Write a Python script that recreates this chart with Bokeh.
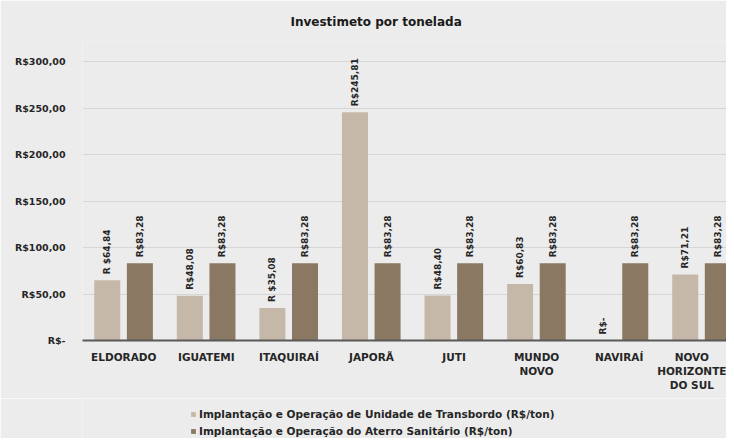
from math import pi
from bokeh.plotting import figure
from bokeh.layouts import column
from bokeh.models import (ColumnDataSource, LabelSet, Legend, LegendItem, Range1d,
                          FixedTicker)
from bokeh.core.properties import value
from bokeh.transform import dodge
from bokeh.embed import file_html
from bokeh.resources import INLINE

categories = ["ELDORADO", "IGUATEMI", "ITAQUIRAÍ", "JAPORÃ", "JUTI",
              "MUNDO\nNOVO", "NAVIRAÍ", "NOVO\nHORIZONTE\nDO SUL"]
transbordo = [64.84, 48.08, 35.08, 245.81, 48.40, 60.83, 0.0, 71.21]
aterro = [83.28, 83.28, 83.28, 83.28, 83.28, 83.28, 83.28, 83.28]
transbordo_labels = ["R $64,84", "R$48,08", "R $35,08", "R$245,81", "R$48,40",
                     "R$60,83", "R$-", "R$71,21"]
aterro_labels = ["R$83,28"] * 8
y_ticks = [0, 50, 100, 150, 200, 250, 300]
y_tick_labels = ["R$-", "R$50,00", "R$100,00", "R$150,00", "R$200,00",
                 "R$250,00", "R$300,00"]
series_names = ["Implantação e Operação de Unidade de Transbordo (R$/ton)",
                "Implantação e Operação do Aterro Sanitário (R$/ton)"]
title_text = "Investimeto por tonelada"

FONT = "DejaVu Sans"
LIGHT = "#c6b8a8"
DARK = "#8b7862"
BG = "#ececec"
TXT = "#262626"

xpos = [i + 0.5 for i in range(len(categories))]
src = ColumnDataSource(dict(x=xpos, t=transbordo, a=aterro,
                            tl=transbordo_labels, al=aterro_labels))

p = figure(width=726, height=398, output_backend="svg", toolbar_location=None,
           x_range=Range1d(0, 7.8), y_range=Range1d(0, 322),
           min_border_left=82, min_border_right=0, min_border_top=40,
           min_border_bottom=58)
p.background_fill_color = BG
p.border_fill_color = BG
p.outline_line_color = None

p.title.text = title_text
p.title.align = "left"
p.title.offset = 208
p.title.text_font = FONT
p.title.text_font_size = "12px"
p.title.text_font_style = "bold"
p.title.text_color = "#1a1a1a"
p.title.standoff = 25

r1 = p.vbar(x=dodge("x", -0.2, range=p.x_range), top="t", width=0.315,
            source=src, fill_color=LIGHT, line_color=None)
r2 = p.vbar(x=dodge("x", 0.195, range=p.x_range), top="a", width=0.315,
            source=src, fill_color=DARK, line_color=None)

for col, txt, off in (("t", "tl", -0.2), ("a", "al", 0.195)):
    ls = LabelSet(x=dodge("x", off, range=p.x_range), y=col, text=txt, source=src,
                  angle=pi / 2, text_align="left", text_baseline="middle",
                  x_offset=0, y_offset=6, text_font=value(FONT),
                  text_font_size="9px", text_font_style="bold", text_color=TXT)
    p.add_layout(ls)

# axes
p.xaxis.ticker = FixedTicker(ticks=xpos)
p.xaxis.major_label_overrides = {x: c for x, c in zip(xpos, categories)}
p.xaxis.major_tick_line_color = None
p.xaxis.minor_tick_line_color = None
p.xaxis.axis_line_color = "#595959"
p.xaxis.axis_line_width = 2
p.xaxis.major_label_text_font = FONT
p.xaxis.major_label_text_font_size = "10.5px"
p.xaxis.major_label_text_font_style = "bold"
p.xaxis.major_label_text_color = TXT
p.xaxis.major_label_standoff = 4

p.yaxis.ticker = FixedTicker(ticks=y_ticks)
p.yaxis.major_label_overrides = {v: l for v, l in zip(y_ticks, y_tick_labels)}
p.yaxis.axis_line_color = None
p.yaxis.major_tick_line_color = None
p.yaxis.minor_tick_line_color = None
p.yaxis.major_label_text_font = FONT
p.yaxis.major_label_text_font_size = "9.5px"
p.yaxis.major_label_text_font_style = "bold"
p.yaxis.major_label_text_color = TXT
p.yaxis.major_label_standoff = 11

p.xgrid.grid_line_color = None
p.ygrid.grid_line_color = "#d6d6d6"
p.ygrid.grid_line_width = 1

# legend strip below the chart
q = figure(width=726, height=40, output_backend="svg", toolbar_location=None,
           x_range=Range1d(0, 1), y_range=Range1d(0, 1),
           x_axis_location=None, y_axis_location=None, min_border=0)
q.background_fill_color = BG
q.border_fill_color = BG
q.outline_line_color = None
q.xgrid.grid_line_color = None
q.ygrid.grid_line_color = None
d1 = q.vbar(x="x", top="t", width=0.1, source=src, fill_color=LIGHT,
            line_color=None, visible=False)
d2 = q.vbar(x="x", top="a", width=0.1, source=src, fill_color=DARK,
            line_color=None, visible=False)

legend = Legend(items=[LegendItem(label=series_names[0], renderers=[d1]),
                       LegendItem(label=series_names[1], renderers=[d2])],
                location=(108, 1), orientation="vertical",
                background_fill_alpha=0, border_line_color=None,
                glyph_width=6, glyph_height=6, label_height=12, spacing=5,
                padding=0, margin=0, label_standoff=3,
                inactive_fill_alpha=0,
                label_text_font=FONT, label_text_font_size="10.5px",
                label_text_font_style="bold", label_text_color=TXT)
q.add_layout(legend, "center")

layout = column(p, q, spacing=0)
open("out.html", "w").write(file_html(layout, INLINE))
